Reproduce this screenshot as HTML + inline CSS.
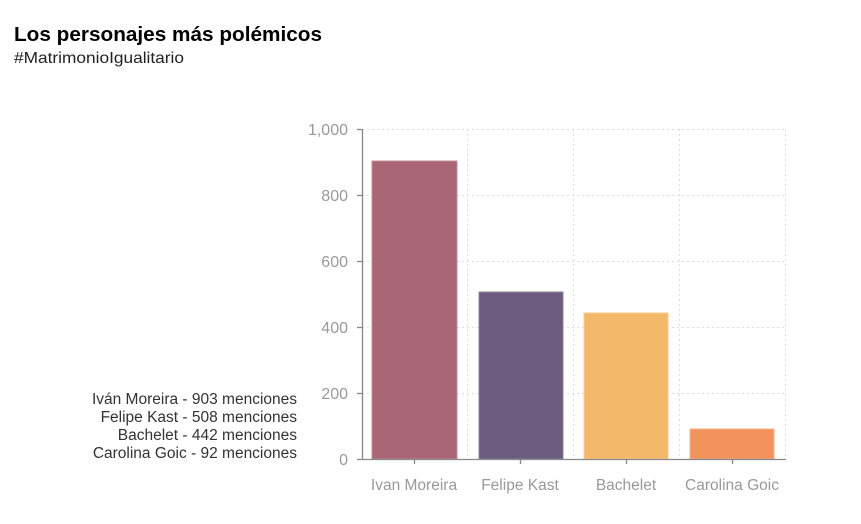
<!DOCTYPE html>
<html><head><meta charset="utf-8"><style>
body{margin:0;background:#fff;width:861px;height:519px;overflow:hidden;font-family:"Liberation Sans",sans-serif}
</style></head><body>
<svg width="861" height="519" xmlns="http://www.w3.org/2000/svg" font-family="Liberation Sans, sans-serif">
<text x="14" y="41" font-size="20.5" font-weight="bold" fill="#000" textLength="308" lengthAdjust="spacingAndGlyphs">Los personajes más polémicos</text>
<text x="14" y="63" font-size="16" fill="#222" textLength="170" lengthAdjust="spacingAndGlyphs">#MatrimonioIgualitario</text>
<g stroke="#ddd" stroke-dasharray="2,3" stroke-width="1">
<line x1="362" y1="129.5" x2="786" y2="129.5"/>
<line x1="362" y1="195.5" x2="786" y2="195.5"/>
<line x1="362" y1="261.5" x2="786" y2="261.5"/>
<line x1="362" y1="327.5" x2="786" y2="327.5"/>
<line x1="362" y1="393.5" x2="786" y2="393.5"/>
<line x1="467.5" y1="129" x2="467.5" y2="459"/>
<line x1="573.5" y1="129" x2="573.5" y2="459"/>
<line x1="679.5" y1="129" x2="679.5" y2="459"/>
<line x1="785.5" y1="129" x2="785.5" y2="459"/>
</g>
<rect x="372" y="161" width="85" height="298" fill="#a86676" stroke="#c48c99" stroke-width="1"/>
<rect x="479" y="292" width="84" height="167" fill="#6c5b7f" stroke="#8f81a0" stroke-width="1"/>
<rect x="584" y="313" width="84" height="146" fill="#f3b86a" stroke="#f7cd94" stroke-width="1"/>
<rect x="690" y="429" width="84" height="30" fill="#f2925d" stroke="#f6b089" stroke-width="1"/>
<g stroke="#888" stroke-width="1.3">
<line x1="362.5" y1="129" x2="362.5" y2="459"/>
<line x1="362" y1="459.5" x2="786" y2="459.5"/>
<line x1="357" y1="129.5" x2="362" y2="129.5"/>
<line x1="357" y1="195.5" x2="362" y2="195.5"/>
<line x1="357" y1="261.5" x2="362" y2="261.5"/>
<line x1="357" y1="327.5" x2="362" y2="327.5"/>
<line x1="357" y1="393.5" x2="362" y2="393.5"/>
<line x1="357" y1="459.5" x2="362" y2="459.5"/>
<line x1="414.5" y1="459" x2="414.5" y2="464"/>
<line x1="520.5" y1="459" x2="520.5" y2="464"/>
<line x1="626.5" y1="459" x2="626.5" y2="464"/>
<line x1="732.5" y1="459" x2="732.5" y2="464"/>
</g>
<g font-size="16" fill="#999" text-anchor="end">
<text x="348" y="135">1,000</text>
<text x="348" y="201">800</text>
<text x="348" y="267">600</text>
<text x="348" y="333">400</text>
<text x="348" y="399">200</text>
<text x="348" y="465">0</text>
</g>
<g font-size="15.5" fill="#999" text-anchor="middle">
<text x="414" y="490">Ivan Moreira</text>
<text x="520" y="490">Felipe Kast</text>
<text x="626" y="490">Bachelet</text>
<text x="732" y="490">Carolina Goic</text>
</g>
<g font-size="15.5" fill="#333" text-anchor="end">
<text x="297" y="404">Iván Moreira - 903 menciones</text>
<text x="297" y="422">Felipe Kast - 508 menciones</text>
<text x="297" y="440">Bachelet - 442 menciones</text>
<text x="297" y="458">Carolina Goic - 92 menciones</text>
</g>
</svg>
</body></html>
